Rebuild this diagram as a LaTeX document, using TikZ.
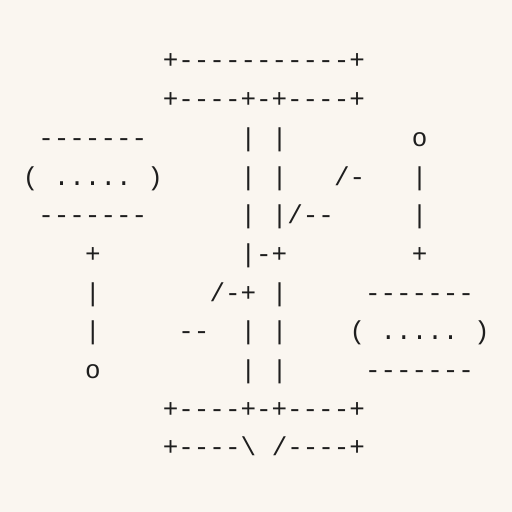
\documentclass[tikz,border=0pt]{standalone}
\usepackage{fontspec}
\setmonofont{Liberation Mono}
\definecolor{bg}{HTML}{FAF6F0}
\definecolor{ink}{HTML}{1E1E1E}
\tikzset{t/.style={anchor=base west, inner sep=0pt, outer sep=0pt, text=ink, font=\ttfamily\fontsize{25.9}{30}\selectfont}}
\newcommand\txt[4]{\node[t] (#1) at ({(22.8+15.56*#2)*1pt},{(512-69-38.7*#3)*1pt}) {#4};}
\begin{document}
\begin{tikzpicture}
\fill[bg] (0,0) rectangle (512pt,512pt);
\useasboundingbox (0,0) rectangle (512pt,512pt);
\txt{r0}{9}{0}{+-----------+}
\txt{r1}{9}{1}{+----+-+----+}
\txt{lt}{1}{2}{-------}
\txt{a2}{14}{2}{|}
\txt{b2}{16}{2}{|}
\txt{ro}{25}{2}{o}
\txt{lp}{0}{3}{(}
\txt{ld}{2}{3}{.....}
\txt{lq}{8}{3}{)}
\txt{a3}{14}{3}{|}
\txt{b3}{16}{3}{|}
\txt{c3}{20}{3}{/-}
\txt{r3}{25}{3}{|}
\txt{lb}{1}{4}{-------}
\txt{a4}{14}{4}{|}
\txt{b4}{16}{4}{|/--}
\txt{r4}{25}{4}{|}
\txt{l5}{4}{5}{+}
\txt{a5}{14}{5}{|-+}
\txt{r5}{25}{5}{+}
\txt{l6}{4}{6}{|}
\txt{a6}{12}{6}{/-+}
\txt{b6}{16}{6}{|}
\txt{rt}{22}{6}{-------}
\txt{l7}{4}{7}{|}
\txt{d7}{10}{7}{--}
\txt{a7}{14}{7}{|}
\txt{b7}{16}{7}{|}
\txt{rp}{21}{7}{(}
\txt{rd}{23}{7}{.....}
\txt{rq}{29}{7}{)}
\txt{l8}{4}{8}{o}
\txt{a8}{14}{8}{|}
\txt{b8}{16}{8}{|}
\txt{rb}{22}{8}{-------}
\txt{r9}{9}{9}{+----+-+----+}
\txt{ra}{9}{10}{+----\textbackslash}
\txt{rc}{16}{10}{/----+}
\end{tikzpicture}
\end{document}
